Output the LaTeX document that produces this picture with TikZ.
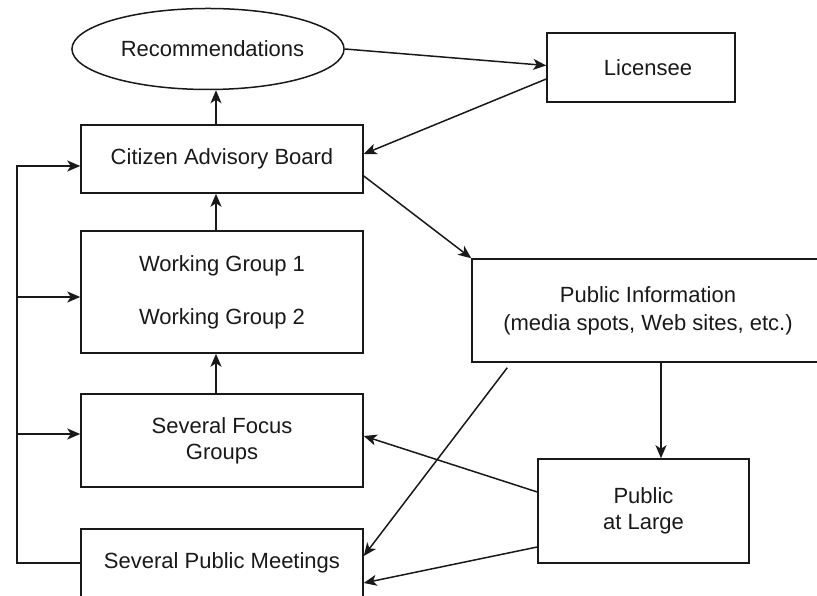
\documentclass[tikz,border=0pt]{standalone}
\usepackage{fontspec}
\setmainfont{Liberation Sans}
\usetikzlibrary{shapes.geometric,arrows.meta}
\definecolor{ink gray}{rgb}{0.1, 0.1, 0.1}

\begin{document}
\begin{tikzpicture}[x = 1pt, y = 1pt, line width = 1.5pt, draw = ink gray,
		font = \fontsize{22}{26}\selectfont,
		board/.style = {draw, rectangle, text = ink gray, align = center, inner sep = 0pt},
		arr/.style = {-{Stealth[length = 13pt, width = 11pt, inset = 3.5pt]}, ink gray}]
			\useasboundingbox (0, 0) rectangle (817, 596);
			% left column
			\begin{scope}
				\node [draw, ellipse, text = ink gray, minimum width = 269, minimum height = 81, inner sep = 0pt]
					(rec) at (208, 547) {\hspace{9pt}Recommendations};
				\node [board, minimum width = 282, minimum height = 68] (cab) at (222, 437) {Citizen Advisory Board};
				\node [board, minimum width = 282, minimum height = 122] (wg) at (222, 304)
					{Working Group 1\\[27pt]Working Group 2};
				\node [board, minimum width = 282, minimum height = 93] (fg) at (222, 155.5) {Several Focus\\Groups};
				\node [board, minimum width = 282, minimum height = 68] (pm) at (222, 33) {Several Public Meetings};
			\end{scope}
			% right column
			\begin{scope}
				\node [board, minimum width = 188, minimum height = 69] (lic) at (641, 528.5) {\hspace{14pt}Licensee};
				\node [board, minimum width = 352, minimum height = 103, align = center] (pi) at (648, 285.5)
					{Public Information\\[2pt](media spots, Web sites, etc.)};
				\node [board, minimum width = 211, minimum height = 104] (pal) at (643.5, 85) {Public\\at Large};
			\end{scope}
			% upward chain
			\draw [arr] ([xshift = -6pt]cab.north) -- ([xshift = -6pt]cab.north |- rec.south);
			\draw [arr] ([xshift = -6pt]wg.north) -- ([xshift = -6pt]cab.south);
			\draw [arr] ([xshift = -6pt]fg.north) -- ([xshift = -6pt]wg.south);
			% links across
			\draw [arr] (rec.east) -- ([yshift = 2pt]lic.west);
			\draw [arr] ([yshift = -11.5pt]lic.west) -- ([yshift = 5pt]cab.east);
			\draw [arr] ([yshift = -17pt]cab.east) -- (pi.north west);
			\draw [arr] ([xshift = 13pt]pi.south) -- ([xshift = 13pt]pi.south |- pal.north);
			\draw [arr] ([yshift = 19pt]pal.west) -- ([yshift = 4.5pt]fg.east);
			\draw [arr] ([yshift = -36pt]pal.west) -- ([yshift = -20pt]pm.east);
			\draw [arr] ([shift = {(36pt, -5pt)}]pi.south west) -- ([yshift = 7pt]pm.east);
			% feedback line
			\coordinate (fb) at (17, 33);
			\coordinate (wgin) at ([yshift = -5pt]wg.west);
			\coordinate (fgin) at ([yshift = 6.5pt]fg.west);
			\draw [arr] (pm.west) -- (fb) |- ([yshift = -7pt]cab.west);
			\draw [arr] (fb |- wgin) -- (wgin);
			\draw [arr] (fb |- fgin) -- (fgin);
		\end{tikzpicture}
\end{document}
